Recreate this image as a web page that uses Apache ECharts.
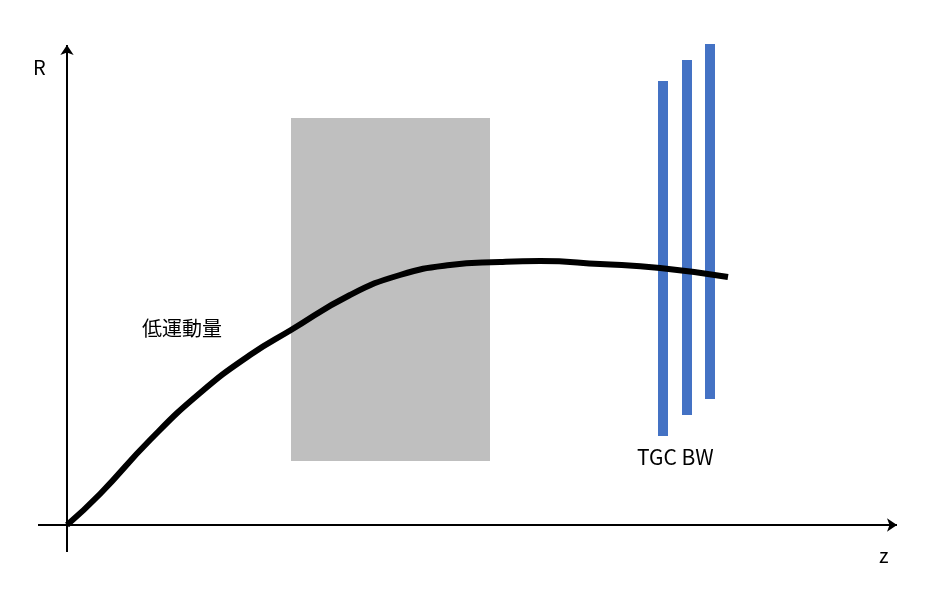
<!DOCTYPE html><html><head><meta charset="utf-8"><script src="https://cdn.jsdelivr.net/npm/echarts@6/dist/echarts.min.js"></script>
<style>html,body{margin:0;background:#fff}#c{width:927px;height:592px}</style></head><body><div id="c"></div>
<script>
const curve=[[0,0],[33,31],[83,85],[133,132],[183,170],[224,195],[283,230],[333,250],[383,260],[433,263],[473,264],[533,261],[593,257],[661,248]];
const field=[[224,64],[423,407]];
const detectors=[[596,89,444],[620,110,465],[643,126,481]];
const axes=[[[-29,0],[830,0]],[[0,-27],[0,480]]];
const ch=echarts.init(document.getElementById('c'));
const F='"Noto Sans CJK JP","Noto Sans",sans-serif';
ch.setOption({animation:false,
grid:{left:38,right:30,top:45,bottom:40},
xAxis:{type:'value',min:-29,max:830,show:false},
yAxis:{type:'value',min:-27,max:480,show:false},
series:[
{type:'line',data:[],markArea:{silent:true,itemStyle:{color:'#bfbfbf'},data:[[{coord:field[0]},{coord:field[1]}]]}},
{type:'lines',coordinateSystem:'cartesian2d',z:1,lineStyle:{color:'#000',width:2,opacity:1},symbol:['none','arrow'],symbolSize:10,
 data:axes.map(a=>({coords:a}))},
{type:'lines',coordinateSystem:'cartesian2d',z:2,lineStyle:{color:'#4472c4',width:10,opacity:1},
 data:detectors.map(d=>({coords:[[d[0],d[1]],[d[0],d[2]]]}))},
{type:'line',z:3,smooth:true,showSymbol:false,data:curve,lineStyle:{color:'#000',width:6}}
],
graphic:[
{type:'text',left:33,top:57,style:{text:'R',font:'20px '+F,fill:'#000'}},
{type:'text',left:879,top:545,style:{text:'z',font:'20px '+F,fill:'#000'}},
{type:'text',left:142,top:318,style:{text:'低運動量',font:'20px '+F,fill:'#000'}},
{type:'text',left:342,top:127,style:{text:'磁場領域',font:'20px '+F,fill:'#000'}},
{type:'text',left:372,top:158,style:{text:'⊙B',font:'bold 20px '+F,fill:'#000'}},
{type:'text',left:637,top:447,style:{text:'TGC BW',font:'21px '+F,fill:'#000'}}
]});
</script></body></html>
